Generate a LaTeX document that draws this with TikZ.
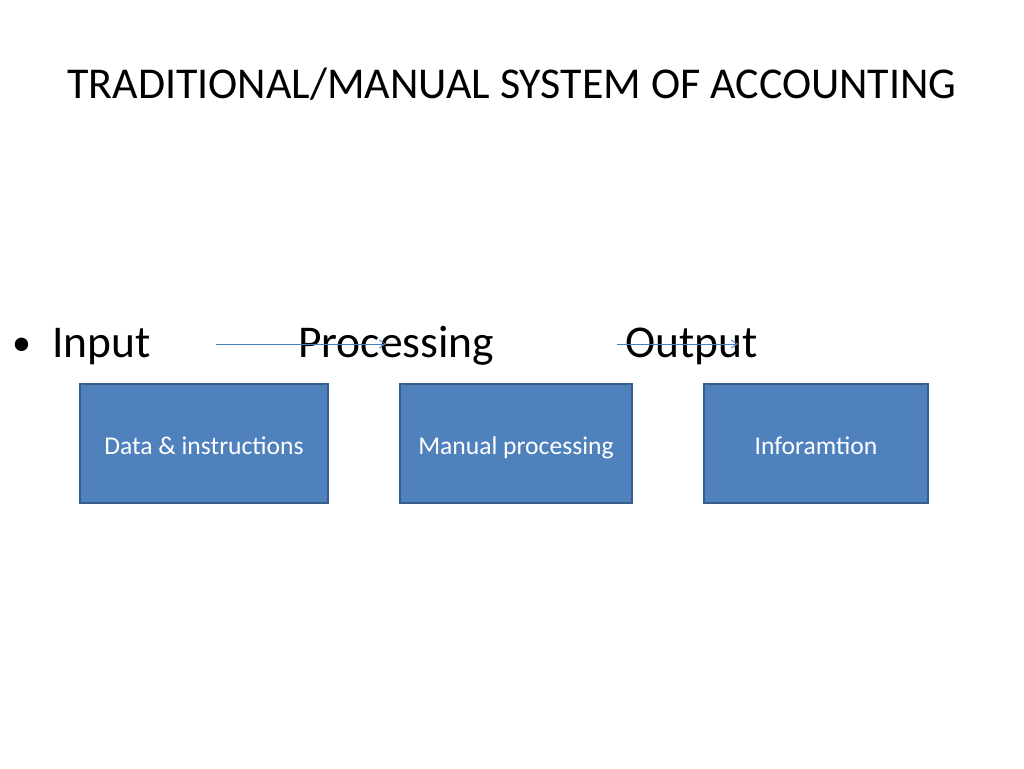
\documentclass[tikz,border=0pt]{standalone}
\usepackage{fontspec}
\setmainfont{Carlito}
\usetikzlibrary{arrows.meta}
\definecolor{boxfill}{HTML}{4F81BD}
\definecolor{boxline}{HTML}{385D8A}
\definecolor{arrowcol}{HTML}{4A7EBB}
\tikzset{
  box/.style={draw=boxline, line width=1.8pt, fill=boxfill, text=white, font=\fontsize{25.6}{30}\selectfont, minimum height=119pt, inner sep=0pt, text height=22.5pt, text depth=0pt},
  bigtext/.style={font=\fontsize{45.5}{54}\selectfont, anchor=base west, inner sep=0pt},
  conn/.style={draw=arrowcol, line width=0.8pt, -{Straight Barb[length=6pt,width=8pt]}}
}
\begin{document}
\begin{tikzpicture}[x=1pt,y=-1pt]
\useasboundingbox (0,0) rectangle (1024,768);
\node[font=\fontsize{44}{54}\selectfont, anchor=base, inner sep=0pt] (title) at (512,98) {TRADITIONAL/MANUAL SYSTEM OF ACCOUNTING};
\node[bigtext, font=\fontsize{38}{46}\selectfont] (bullet) at (12,355) {•};
\node[bigtext] (input) at (52,357) {Input};
\node[bigtext] (proc) at (298,357) {Processing};
\node[bigtext] (out) at (625,357) {Output};
\coordinate (a1s) at (216,344);
\coordinate (a1e) at (386,344);
\coordinate (a2s) at (617,344);
\coordinate (a2e) at (738,344);
\draw[conn] (a1s) -- (a1e);
\draw[conn] (a2s) -- (a2e);
\node[box, minimum width=248pt] (b1) at (204,443.5) {Data \& instructions};
\node[box, minimum width=232pt] (b2) at (516,443.5) {Manual processing};
\node[box, minimum width=224pt] (b3) at (816,443.5) {Inforamtion};
\end{tikzpicture}
\end{document}
